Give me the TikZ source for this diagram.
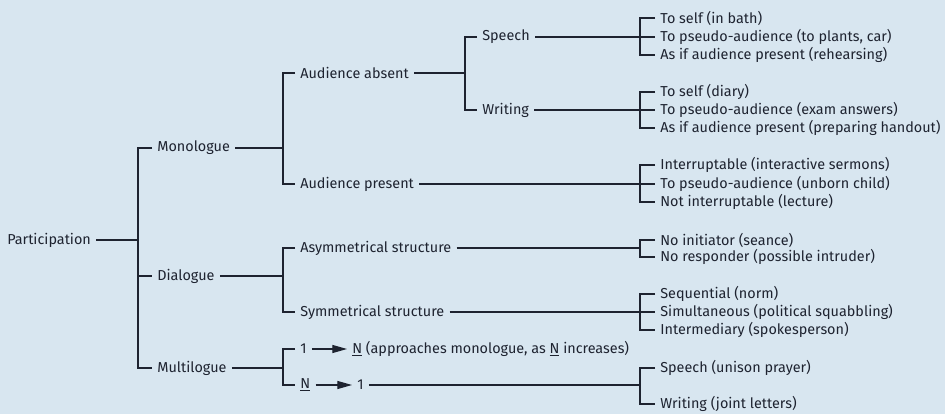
\documentclass[tikz,border=0pt]{standalone}
\usepackage{fontspec}
\setmainfont{Fira Sans}
\usepackage{tikz}
\usetikzlibrary{arrows.meta}
\definecolor{paper}{RGB}{216,230,240}
\definecolor{ink}{RGB}{30,35,48}

\begin{document}
\begin{tikzpicture}[x=0.75pt, y=-0.75pt, line width=0.9pt, draw=ink,
    every node/.style={anchor=west, inner xsep=0pt, inner ysep=1pt, outer xsep=4pt, text=ink, font=\fontsize{10.8}{12}\selectfont}]
  \fill[paper] (0,0) rectangle (945,414);
  \useasboundingbox (0,0) rectangle (945,414);
  % first and second level
  \node (part) at (2,240) {Participation};
  \node (mono) at (152,148) {Monologue};
  \node (dia) at (152,276) {Dialogue};
  \node (multi) at (152,368) {Multilogue};
  \node (absent) at (295,73) {Audience absent};
  \node (present) at (295,184) {Audience present};
  \node (speech) at (477,37) {Speech};
  \node (writing) at (477,110) {Writing};
  \node (asym) at (295,248) {Asymmetrical structure};
  \node (sym) at (295,312) {Symmetrical structure};
  \node (one) at (295,349) {1};
  \node (many) at (347,349) {\underline{N} (approaches monologue, as \underline{N} increases)};
  \node (enn) at (295,385) {\underline{N}};
  \node (onb) at (352,385) {1};
  % leaves
  \node (sp1) at (655,18) {To self (in bath)};
  \node (sp2) at (655,37) {To pseudo-audience (to plants, car)};
  \node (sp3) at (655,55) {As if audience present (rehearsing)};
  \node (wr1) at (655,92) {To self (diary)};
  \node (wr2) at (655,110) {To pseudo-audience (exam answers)};
  \node (wr3) at (655,128) {As if audience present (preparing handout)};
  \node (pr1) at (655,165) {Interruptable (interactive sermons)};
  \node (pr2) at (655,184) {To pseudo-audience (unborn child)};
  \node (pr3) at (655,202) {Not interruptable (lecture)};
  \node (as1) at (655,240) {No initiator (seance)};
  \node (as2) at (655,257) {No responder (possible intruder)};
  \node (sy1) at (655,294) {Sequential (norm)};
  \node (sy2) at (655,312) {Simultaneous (political squabbling)};
  \node (sy3) at (655,330) {Intermediary (spokesperson)};
  \node (mu1) at (655,368) {Speech (unison prayer)};
  \node (mu2) at (655,404) {Writing (joint letters)};
  % bracket points
  \coordinate (b0) at (138,240);
  \coordinate (b1) at (283,148);
  \coordinate (b2) at (283,276);
  \coordinate (b3) at (283,368);
  \coordinate (b4) at (465,73);
  \coordinate (b5) at (640,37);
  \coordinate (b6) at (640,110);
  \coordinate (b7) at (640,184);
  \coordinate (b8) at (640,248);
  \coordinate (b9) at (640,312);
  \coordinate (b10) at (640,385);
  % connectors
  \draw (part) -- (b0);
  \draw (mono) -| (b0) |- (multi);
  \draw (b0 |- dia) -- (dia);
  \draw (mono) -- (b1);
  \draw (absent) -| (b1) |- (present);
  \draw (absent) -- (b4);
  \draw (speech) -| (b4) |- (writing);
  \draw (speech) -- (b5);
  \draw (sp1) -| (b5) |- (sp3);
  \draw (b5) -- (sp2);
  \draw (writing) -- (b6);
  \draw (wr1) -| (b6) |- (wr3);
  \draw (b6) -- (wr2);
  \draw (present) -- (b7);
  \draw (pr1) -| (b7) |- (pr3);
  \draw (b7) -- (pr2);
  \draw (dia) -- (b2);
  \draw (asym) -| (b2) |- (sym);
  \draw (asym) -- (b8);
  \draw (as1) -| (b8) |- (as2);
  \draw (sym) -- (b9);
  \draw (sy1) -| (b9) |- (sy3);
  \draw (b9) -- (sy2);
  \draw (multi) -- (b3);
  \draw (one) -| (b3) |- (enn);
  \draw[-{Triangle[length=11pt, width=6pt]}] (one) -- (many);
  \draw[-{Triangle[length=11pt, width=6pt]}] (enn) -- (onb);
  \draw (onb) -- (b10);
  \draw (mu1) -| (b10) |- (mu2);
\end{tikzpicture}
\end{document}
